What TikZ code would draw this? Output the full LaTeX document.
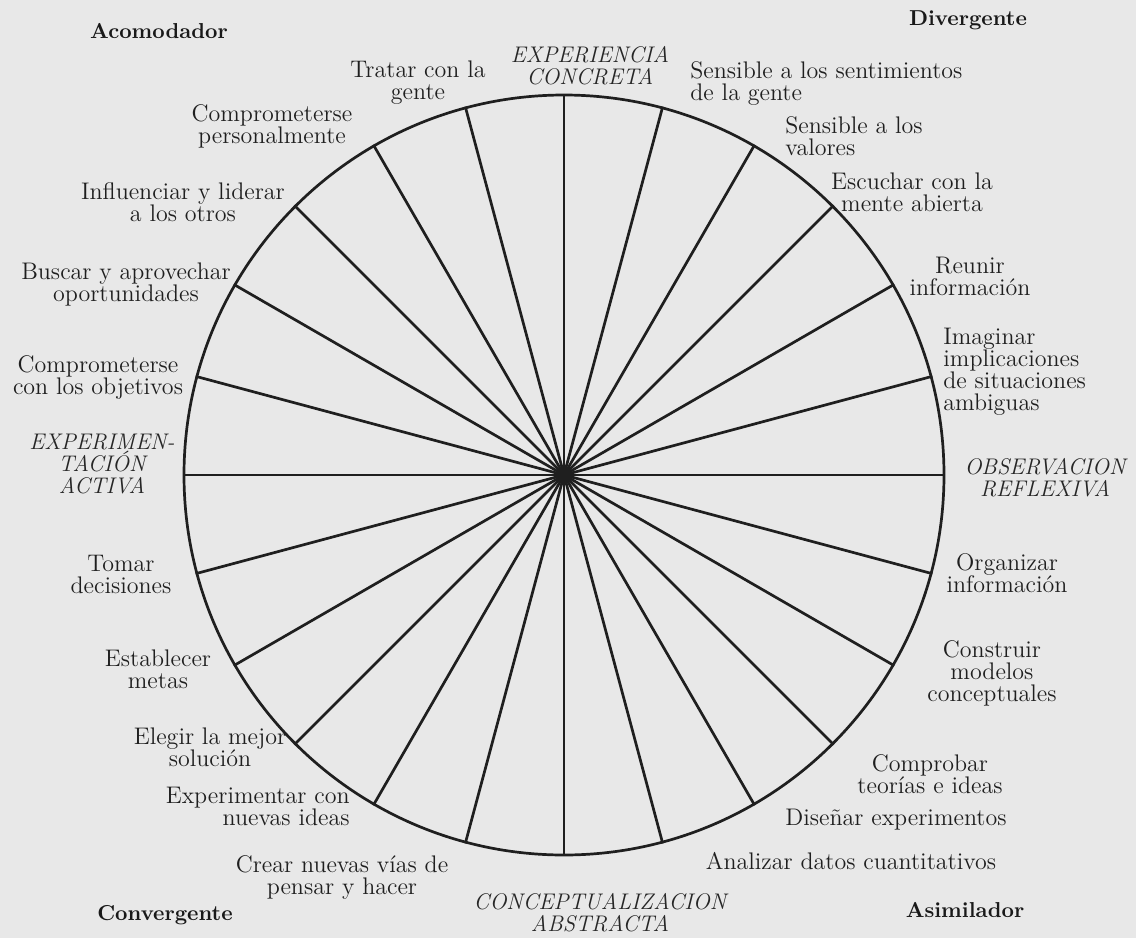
\documentclass[tikz,border=0pt]{standalone}
\usepackage{tikz}
\usetikzlibrary{positioning}
\tikzset{
  spoke/.style={line width=1.35pt, draw=black!88},
  rim/.style={circle, draw=black!88, line width=1.35pt, minimum size=380pt, inner sep=0pt},
  skilltext/.style={font=\fontsize{12}{11}\selectfont, text=black!88, align=center, inner sep=0pt},
  phasetext/.style={font=\fontsize{11.3}{11}\selectfont\itshape, text=black!85, align=center, inner sep=0pt},
  styletext/.style={font=\fontsize{10.8}{11}\selectfont\bfseries, text=black!90, inner sep=0pt}
}

\begin{document}
\begin{tikzpicture}[x=0.5pt, y=-0.5pt]
  % paper
  \fill[black!9] (0,0) rectangle (1136,938);
  \useasboundingbox (0,0) rectangle (1136,938);

  % wheel and its 24 spokes
  \node[rim] (wheel) at (564,475) {};
  \foreach \a in {0,15,...,345}
    \draw[spoke] (wheel.center) -- (wheel.\a);

  % learning styles in the corners
  \node[styletext] (acomodador) at (159,31) {Acomodador};
  \node[styletext] (divergente) at (968,20) {Divergente};
  \node[styletext] (convergente) at (165,915) {Convergente};
  \node[styletext] (asimilador) at (965,910) {Asimilador};

  % the four modes
  \node[phasetext] (ec) at (590,66) {EXPERIENCIA\\CONCRETA};
  \node[phasetext] (or) at (1045,478) {OBSERVACION\\REFLEXIVA};
  \node[phasetext] (ca) at (600,913) {CONCEPTUALIZACION\\ABSTRACTA};
  \node[phasetext] (ea) at (102,464) {EXPERIMEN-\\TACIÓN\\ACTIVA};

  % skills, upper left
  \node[skilltext] (tratar) at (418,83) {Tratar con la\\gente};
  \node[skilltext] (personal) at (272,126) {Comprometerse\\personalmente};
  \node[skilltext] (liderar) at (183,202) {Influenciar y liderar\\a los otros};
  \node[skilltext] (buscar) at (126,284) {Buscar y aprovechar\\oportunidades};
  \node[skilltext] (objetivos) at (98,377) {Comprometerse\\con los objetivos};

  % skills, lower left
  \node[skilltext] (tomar) at (121,574) {Tomar\\decisiones};
  \node[skilltext] (metas) at (158,669) {Establecer\\metas};
  \node[skilltext] (elegir) at (210,747) {Elegir la mejor\\solución};
  \node[skilltext, align=right, anchor=east] (nuevas) at (350,806) {Experimentar con\\nuevas ideas};
  \node[skilltext] (crear) at (342,877) {Crear nuevas vías de\\pensar y hacer};

  % skills, upper right
  \node[skilltext, align=left, anchor=west] (sentim) at (690,84) {Sensible a los sentimientos\\de la gente};
  \node[skilltext, align=left, anchor=west] (valores) at (785,136) {Sensible a los\\valores};
  \node[skilltext] (escuchar) at (912,192) {Escuchar con la\\mente abierta};
  \node[skilltext] (reunir) at (970,276) {Reunir\\información};
  \node[skilltext, align=left, anchor=west] (imaginar) at (943,372) {Imaginar\\implicaciones\\de situaciones\\ambiguas};

  % skills, lower right
  \node[skilltext] (organizar) at (1007,573) {Organizar\\información};
  \node[skilltext] (modelos) at (992,673) {Construir\\modelos\\conceptuales};
  \node[skilltext] (comprobar) at (930,774) {Comprobar\\teorías e ideas};
  \node[skilltext] (disenar) at (896,820) {Diseñar experimentos};
  \node[skilltext] (analizar) at (851,861) {Analizar datos cuantitativos};
\end{tikzpicture}
\end{document}
